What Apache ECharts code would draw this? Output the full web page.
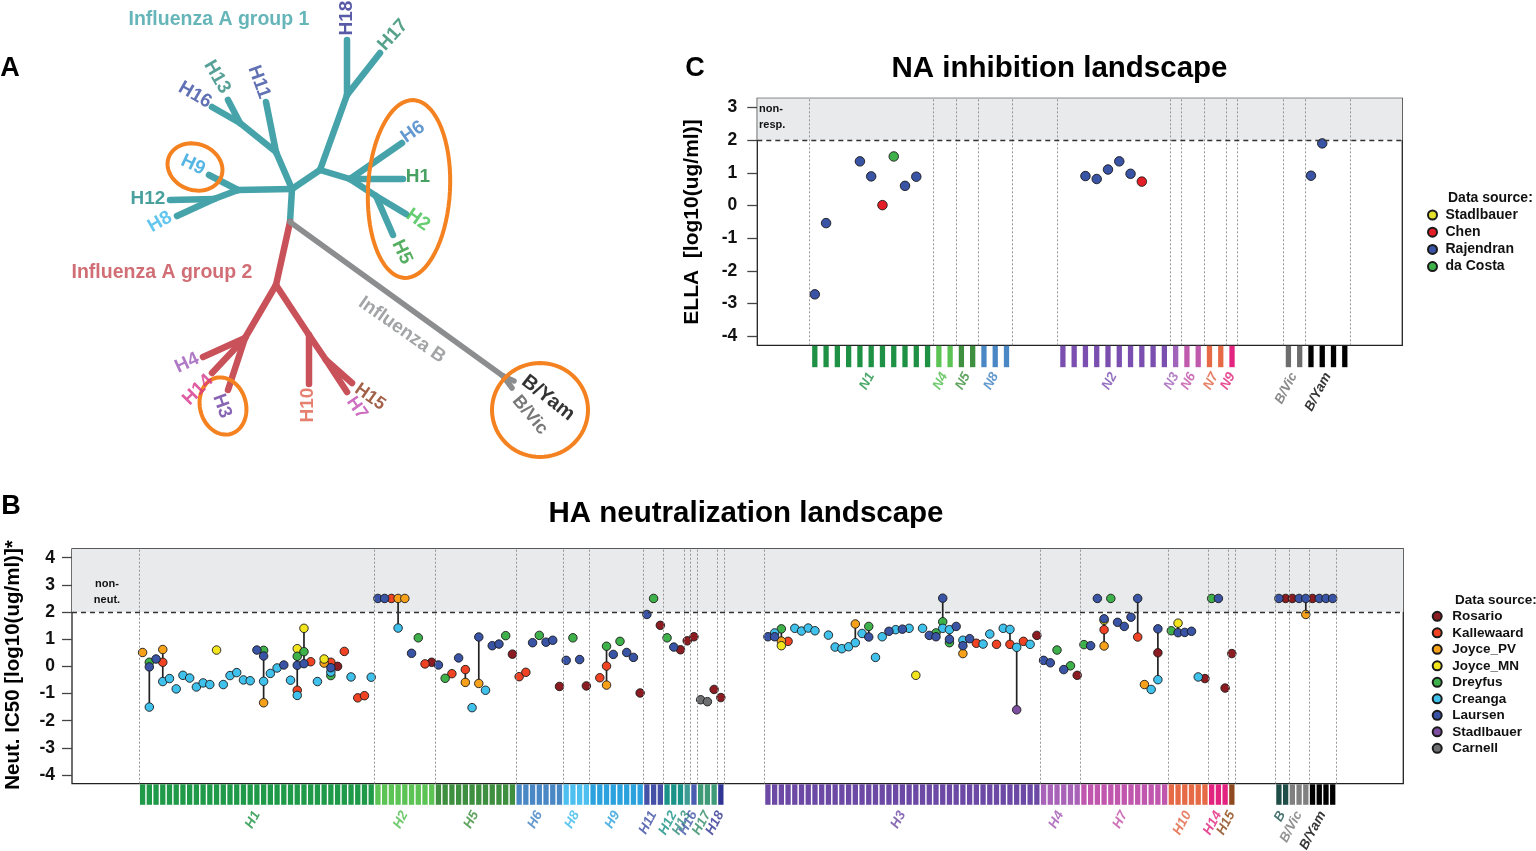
<!DOCTYPE html>
<html><head><meta charset="utf-8">
<script src="https://cdn.jsdelivr.net/npm/echarts@6/dist/echarts.min.js"></script>
<style>html,body{margin:0;padding:0;background:#fff}#c{width:1536px;height:851px}</style>
</head><body><div id="c"></div>
<script>
// ================= DATA =================
// Panel B: HA neutralization landscape (x = strain column, y = log10 IC50)
const haGroups = ['H1','H2','H5','H6','H8','H9','H11','H12','H13','H16','H17','H18','','H3','H4','H7','H10','H14','H15','','B','B/Vic','B/Yam'];
const haGroupSizes = [35,9,12,7,4,8,3,3,1,1,3,1,6,41,6,13,6,3,1,6,2,3,4];
const haTicks = [-4,-3,-2,-1,0,1,2,3,4];
const haSources = ['Rosario','Kallewaard','Joyce_PV','Joyce_MN','Dreyfus','Creanga','Laursen','Stadlbauer','Carnell'];
const rosarioHA = [[30,0.0],[44,0.15],[56,0.45],[63,-0.74],[67,-0.72],[75,-0.98],[78,1.51],[81,0.61],[82,0.94],[83,1.09],[86,-0.85],[87,-1.15],[134,1.14],[140,-0.33],[152,0.5],[159,-0.45],[162,-0.8],[163,0.47],[171,2.5],[172,2.5],[175,2.5]];
const kallewaardHA = [[4,0.15],[24,-0.88],[26,0.17],[29,0.15],[31,0.55],[33,-1.16],[34,-1.08],[38,2.5],[43,0.09],[47,-0.27],[49,-0.12],[57,-0.38],[58,-0.22],[69,-0.42],[70,0.01],[97,0.92],[125,0.85],[128,0.81],[130,0.81],[132,0.92],[144,1.35],[149,1.08]];
const joycePvHA = [[1,0.51],[4,0.62],[19,-1.34],[28,0.12],[39,2.5],[40,2.5],[49,-0.59],[51,-0.63],[70,-0.69],[96,0.93],[107,1.56],[123,0.47],[144,0.75],[150,-0.67],[174,1.91]];
const joyceMnHA = [[12,0.6],[24,0.65],[25,1.4],[28,0.27],[96,0.76],[116,-0.33],[144,1.69],[155,1.59]];
const dreyfusHA = [[2,0.15],[19,0.59],[24,0.37],[25,0.54],[29,-0.34],[42,1.05],[46,-0.44],[55,1.13],[60,1.14],[65,1.05],[70,0.74],[72,0.92],[77,2.5],[79,1.05],[96,1.38],[109,1.47],[119,1.23],[120,1.64],[121,0.87],[137,0.6],[139,0.02],[141,0.8],[145,2.5],[154,1.31],[160,2.5]];
const creangaHA = [[2,-1.5],[4,-0.56],[5,-0.45],[6,-0.83],[7,-0.33],[8,-0.43],[9,-0.76],[10,-0.61],[11,-0.67],[13,-0.67],[14,-0.34],[15,-0.23],[16,-0.5],[17,-0.53],[19,-0.55],[20,-0.26],[21,-0.06],[23,-0.51],[24,-1.07],[27,-0.56],[29,-0.21],[32,-0.39],[35,-0.4],[39,1.41],[50,-1.52],[52,-0.88],[95,1.23],[98,1.4],[99,1.3],[100,1.41],[101,1.31],[103,1.15],[104,0.71],[105,0.65],[106,0.72],[107,0.87],[108,1.21],[110,0.33],[111,1.09],[113,1.35],[115,1.4],[117,1.4],[120,1.4],[121,1.35],[123,0.96],[126,0.82],[127,1.19],[129,1.4],[130,1.36],[131,0.7],[133,0.81],[151,-0.85],[152,-0.49],[158,-0.39]];
const laursenHA = [[2,-0.02],[3,0.27],[18,0.6],[19,0.38],[22,0.05],[24,0.04],[25,0.1],[29,-0.05],[36,2.5],[37,2.5],[41,0.48],[45,0.05],[48,0.31],[51,1.08],[53,0.76],[54,0.82],[59,0.87],[61,0.89],[62,0.96],[64,0.22],[66,0.25],[71,0.44],[73,0.51],[74,0.33],[76,1.91],[80,0.71],[94,1.09],[95,1.09],[109,1.08],[112,1.29],[114,1.37],[118,1.14],[119,1.09],[120,2.51],[121,1.0],[122,1.47],[123,0.76],[124,1.02],[135,0.22],[136,0.13],[138,-0.12],[142,0.76],[143,2.5],[144,1.75],[146,1.62],[147,1.47],[148,1.81],[149,2.5],[152,1.38],[155,1.24],[156,1.25],[157,1.29],[161,2.5],[170,2.5],[173,2.5],[174,2.5],[176,2.5],[177,2.5],[178,2.5]];
const stadlbauerHA = [[131,-1.6]];
const carnellHA = [[84,-1.23],[85,-1.3]];
const haSourceData = [rosarioHA,kallewaardHA,joycePvHA,joyceMnHA,dreyfusHA,creangaHA,laursenHA,stadlbauerHA,carnellHA];

// Panel C: NA inhibition landscape (x = strain column, y = log10 ELLA)
const naGroups = ['N1','N4','N5','N8','','N2','N3','N6','N7','N9','','B/Vic','B/Yam'];
const naGroupSizes = [11,2,2,3,4,10,1,2,2,1,4,2,4];
const naTicks = [-4,-3,-2,-1,0,1,2,3];
const naSources = ['Stadlbauer','Chen','Rajendran','da Costa'];
const stadlbauerNA = [];
const chenNA = [[7,0.01],[30,0.73]];
const rajendranNA = [[1,-2.72],[2,-0.54],[5,1.35],[6,0.89],[9,0.6],[10,0.88],[25,0.9],[26,0.81],[27,1.1],[28,1.35],[29,0.97],[45,0.91],[46,1.9]];
const daCostaNA = [[8,1.5]];
const naSourceData = [stadlbauerNA,chenNA,rajendranNA,daCostaNA];
const threshold = 2;

// Panel A: phylogenetic tree layout (node positions in layout units)
const treeNodes = {
  root:[290,222], g1a:[292,189], x1:[276,152], H11:[266,102], y1:[240,123], H16:[212,107], H13:[228,100],
  z1:[238,190], H9:[209,175], w1:[214,199], H12:[170,200], H8:[177,216],
  g1b:[320,170], v1:[347,95], H18:[347,40], H17:[380,53], u1:[350,179], H6:[402,143], H1:[403,179],
  t1:[376,196], H2:[406,214], H5:[393,235],
  g2:[276,285], r2:[245,338], H4:[203,357], H14:[212,373], H3:[228,390], r3:[309,335], H10:[309,384],
  r4:[326,360], H15:[352,383], H7:[347,392],
  bn:[503,376], BYam:[514,381], BVic:[512,388]
};
const treeEdges = [
  ['root','g1a',0],['g1a','x1',0],['x1','H11',0],['x1','y1',0],['y1','H16',0],['y1','H13',0],
  ['g1a','z1',0],['z1','H9',0],['z1','w1',0],['w1','H12',0],['w1','H8',0],
  ['g1a','g1b',0],['g1b','v1',0],['v1','H18',0],['v1','H17',0],['g1b','u1',0],['u1','H6',0],['u1','H1',0],
  ['u1','t1',0],['t1','H2',0],['t1','H5',0],
  ['root','g2',1],['g2','r2',1],['r2','H4',1],['r2','H14',1],['r2','H3',1],['g2','r3',1],['r3','H10',1],
  ['r3','r4',1],['r4','H15',1],['r4','H7',1],
  ['root','bn',2],['bn','BYam',2],['bn','BVic',2]
];

// ================= STYLES =================
const FONT = '"Liberation Sans", Arial, Helvetica, sans-serif';
const branchColors = ['#46a3aa','#c9525a','#8b8d8f'];
const haStripeColors = {H1:'#1f9a48',H2:'#5cc355',H5:'#3e8f3f',H6:'#4a88c5',H8:'#4ec0ef',H9:'#2ba2dd',H11:'#4451a6',H12:'#1a9488',H13:'#3f9c95',H16:'#4a5db0',H17:'#3f9a78',H18:'#303494',H3:'#6c49a5',H4:'#a863b8',H7:'#c056ad',H10:'#e56a45',H14:'#e2237f',H15:'#8e4a1e',B:'#1f4e49','B/Vic':'#808080','B/Yam':'#000000'};
const haLabelColors = {H1:'#1a9041',H2:'#4dbd4a',H5:'#3b8f3a',H6:'#3d7fc0',H8:'#38b9ea',H9:'#2b9fd9',H11:'#3b4ba0',H12:'#159085',H13:'#2e8b7a',H16:'#3f55a5',H17:'#2e8a64',H18:'#2e3192',H3:'#6a45a3',H4:'#a056b0',H7:'#c050a8',H10:'#e0603f',H14:'#e0207a',H15:'#8b4513',B:'#1f5450','B/Vic':'#777777','B/Yam':'#000000'};
const naStripeColors = {N1:'#1e9145',N4:'#5cc355',N5:'#3e8f3f',N8:'#4a88c5',N2:'#7a4fb0',N3:'#a065bb',N6:'#c05aac',N7:'#e56a45',N9:'#e2237f','B/Vic':'#6d6d6d','B/Yam':'#000000'};
const naLabelColors = {N1:'#1e9145',N4:'#4dbd4a',N5:'#3b8f3a',N8:'#3d7fc0',N2:'#7a4fb0',N3:'#a060b8',N6:'#c050a8',N7:'#e0603f',N9:'#e0207a','B/Vic':'#6d6d6d','B/Yam':'#000000'};
const haSourceColors = ['#8b1c21','#ef4323','#f7a11a','#f2e51e','#3fb14b','#40c1ec','#3953a5','#7d4e9f','#6d6e70'];
const naSourceColors = ['#e3df2a','#e41e26','#3953a5','#3fb14b'];

const treeLabels = [
  {t:'Influenza A group 1', p:[219,20], r:0, c:'#3ea2a8', s:19.5},
  {t:'Influenza A group 2', p:[162,273], r:0, c:'#c64a52', s:19.5},
  {t:'Influenza B', p:[402,330], r:-35, c:'#8b8d8f', s:19},
  {t:'H18', p:[347,18], r:90, c:'#2e3192', s:19},
  {t:'H17', p:[393,35], r:48, c:'#2b8a6c', s:19},
  {t:'H13', p:[217,77], r:-60, c:'#2e8a7e', s:19},
  {t:'H11', p:[259,82], r:-70, c:'#3a4ea0', s:19},
  {t:'H16', p:[195,95], r:-30, c:'#3a4ea0', s:19},
  {t:'H9', p:[193,165], r:-25, c:'#2aa3dc', s:19},
  {t:'H12', p:[148,199], r:0, c:'#1a8a85', s:19},
  {t:'H8', p:[160,222], r:30, c:'#3cb8ea', s:19},
  {t:'H6', p:[413,132], r:35, c:'#3d7fc4', s:19},
  {t:'H1', p:[418,177], r:0, c:'#1a8a3a', s:19},
  {t:'H2', p:[418,220], r:-35, c:'#3cc04c', s:19},
  {t:'H5', p:[402,252], r:-65, c:'#2b9a3a', s:19},
  {t:'H4', p:[187,363], r:25, c:'#9b59b6', s:19},
  {t:'H14', p:[198,390], r:45, c:'#d6338a', s:19},
  {t:'H3', p:[222,406], r:-70, c:'#6a3fa0', s:19},
  {t:'H10', p:[308,405], r:90, c:'#e0604a', s:19},
  {t:'H15', p:[370,397], r:-35, c:'#8b3a1a', s:18},
  {t:'H7', p:[357,408], r:-55, c:'#c04ab0', s:18},
  {t:'B/Yam', p:[548,398], r:-38, c:'#000000', s:20},
  {t:'B/Vic', p:[530,415], r:-50, c:'#555555', s:18}
];
const rings = [
  {c:[195,167], rx:28, ry:23, a:-20},
  {c:[409,189], rx:41, ry:89, a:-3},
  {c:[223,406], rx:23, ry:29, a:15},
  {c:[540,410], rx:48, ry:47, a:0}
];

// ================= HELPERS =================
function layoutGroups(groups, sizes) {
  let c = 1; const cols = [], spans = [];
  groups.forEach((g, i) => {
    const s = c, e = c + sizes[i] - 1;
    if (g) { for (let k = s; k <= e; k++) cols.push([k, 1, g]); spans.push({g, s, e}); }
    c += sizes[i];
  });
  const bounds = [];
  spans.forEach(sp => { [sp.s - 0.5, sp.e + 0.5].forEach(v => { if (bounds.indexOf(v) < 0) bounds.push(v); }); });
  return {cols, spans, bounds, total: c - 1};
}
function linkData(all) {
  const m = {};
  all.forEach(arr => arr.forEach(([x, y]) => { if (!m[x]) m[x] = []; m[x].push(y); }));
  const out = [];
  Object.keys(m).forEach(k => { const v = m[k]; if (v.length > 1) { const lo = Math.min(...v), hi = Math.max(...v); if (hi > lo) out.push([+k, lo, hi]); } });
  return out;
}
const ha = layoutGroups(haGroups, haGroupSizes);
const na = layoutGroups(naGroups, naGroupSizes);

function stripeSeries(lay, colors, xi, ratio) {
  return {type:'custom', xAxisIndex:xi, yAxisIndex:xi, silent:true, z:2,
    data: lay.cols.map(c => [c[0], c[1], lay.spans.findIndex(s => s.g === c[2])]),
    renderItem: (params, api) => {
      const x = api.value(0);
      const w = api.size([1, 0])[0] * ratio;
      const tp = api.coord([x, 1]), bt = api.coord([x, 0]);
      const g = lay.spans[api.value(2)].g;
      return {type:'rect', shape:{x: tp[0] - w / 2, y: tp[1], width: w, height: bt[1] - tp[1]}, style:{fill: colors[g]}};
    }};
}
function groupLabelSeries(lay, colors, xi, yv, fs) {
  return {type:'scatter', xAxisIndex:xi, yAxisIndex:xi, silent:true, symbolSize:0, z:3,
    data: lay.spans.map(s => ({name: s.g, value:[(s.s + s.e) / 2, yv], label:{color: colors[s.g]}})),
    label:{show:true, position:[0,0], formatter:'{b}', rotate:62, align:'right', verticalAlign:'middle',
      fontFamily:FONT, fontSize:fs, fontStyle:'italic', fontWeight:'bold'}};
}
function bandSeries(xi, top) {
  return {type:'custom', xAxisIndex:xi, yAxisIndex:xi, silent:true, z:0, data:[[0,0]], renderItem:() => null,
    markArea:{silent:true, itemStyle:{color:'#e9eaeb'}, data:[[{yAxis:threshold},{yAxis:top}]]}};
}
function linkSeries(xi, all, bounds) {
  return {type:'custom', xAxisIndex:xi, yAxisIndex:xi, silent:true, z:1, data: linkData(all),
    renderItem: (params, api) => {
      const a = api.coord([api.value(0), api.value(1)]), b = api.coord([api.value(0), api.value(2)]);
      return {type:'line', shape:{x1:a[0], y1:a[1], x2:b[0], y2:b[1]}, style:{stroke:'#222', lineWidth:1.7}};
    },
    markLine:{silent:true, symbol:['none','none'], label:{show:false}, animation:false,
      lineStyle:{type:[2,2], color:'#8a8a8a', width:0.9},
      data: bounds.map(v => ({xAxis:v})).concat([{yAxis:threshold, lineStyle:{type:[5,4], color:'#333', width:1.3}}])}};
}
function pointSeries(names, datas, colors, xi, size, prefix) {
  return names.map((n, i) => ({type:'scatter', name: prefix + n, xAxisIndex:xi, yAxisIndex:xi, silent:true, z:3,
    symbol:'circle', symbolSize:size, data: datas[i],
    itemStyle:{color: colors[i], borderColor:'#1a1a1a', borderWidth:0.9, opacity:1}}));
}
function yAxisPlot(gi, min, max, ticks, margin) {
  return {gridIndex:gi, type:'value', min, max, splitLine:{show:false}, axisLine:{show:false, onZero:false},
    axisTick:{show:true, inside:false, length:10, customValues:ticks, lineStyle:{color:'#444', width:1.3}},
    axisLabel:{show:true, customValues:ticks, margin, fontFamily:FONT, fontSize:17.5, fontWeight:'bold', color:'#111'}};
}

// ================= CHART =================
const chart = echarts.init(document.getElementById('c'));
const hidden = (gi, min, max, inv) => ({gridIndex:gi, type:'value', min, max, show:false, inverse:!!inv, splitLine:{show:false}, axisLine:{onZero:false}});
const txt = (x, y, text, size, extra) => Object.assign({type:'text', x, y, z:100, zlevel:0,
  style:Object.assign({text, fontFamily:FONT, fontSize:size, fontWeight:'bold', fill:'#000', align:'center', verticalAlign:'middle'}, (extra && extra.style) || {})},
  extra && extra.rotation ? {rotation: extra.rotation} : {});

const option = {
  animation:false,
  backgroundColor:'#fff',
  grid:[
    {left:0, top:0, width:600, height:460},
    {left:757.3, top:98.3, width:645, height:247, show:true, borderColor:'#222', borderWidth:1.3},
    {left:757.3, top:345.8, width:645, height:64.2},
    {left:72, top:549, width:1331.3, height:234.7, show:true, borderColor:'#222', borderWidth:1.3},
    {left:72, top:784.3, width:1331.3, height:61.5}
  ],
  xAxis:[hidden(0,0,600), hidden(1,-4.1,53.1), hidden(2,-4.1,53.1), hidden(3,-9.5,188.5), hidden(4,-9.5,188.5)],
  yAxis:[hidden(0,0,460,true), yAxisPlot(1,-4.28,3.28,naTicks,20), hidden(2,-2,1), yAxisPlot(3,-4.32,4.32,haTicks,17), hidden(4,-2,1)],
  legend:[
    {data:haSources, orient:'vertical', left:1431.7, top:609.3, padding:0, itemWidth:20, itemHeight:9, itemGap:2.5,
      selectedMode:false, icon:'circle', textStyle:{fontFamily:FONT, fontSize:13.5, fontWeight:'bold', color:'#111', lineHeight:14}},
    {data:naSources.map(n => 'C_' + n), orient:'vertical', left:1427, top:208, padding:0, itemWidth:16, itemHeight:9, itemGap:3.2,
      selectedMode:false, icon:'circle', formatter: n => n.replace(/^C_/, ''),
      textStyle:{fontFamily:FONT, fontSize:14, fontWeight:'bold', color:'#111', lineHeight:14}}
  ],
  graphic:{elements:[
    txt(10, 69, 'A', 27),
    txt(11, 507, 'B', 27),
    txt(695, 69, 'C', 27),
    txt(1059.5, 69, 'NA inhibition landscape', 29.5),
    txt(746, 514, 'HA neutralization landscape', 29.5),
    txt(692, 222, 'ELLA  [log10(ug/ml)]', 21, {rotation:Math.PI/2}),
    txt(13, 665, 'Neut. IC50 [log10(ug/ml)]*', 20.5, {rotation:Math.PI/2}),
    txt(107, 592, 'non-\nneut.', 11, {style:{fill:'#111', lineHeight:15.5}}),
    txt(759, 117, 'non-\nresp.', 11, {style:{fill:'#111', align:'left', lineHeight:15.5}}),
    txt(1455, 600.5, 'Data source:', 13.5, {style:{fill:'#111', align:'left'}}),
    txt(1448, 198, 'Data source:', 14, {style:{fill:'#111', align:'left'}})
  ]},
  series:[
    // ---- Panel A tree ----
    {type:'custom', xAxisIndex:0, yAxisIndex:0, silent:true, z:1,
      data: treeEdges.map(e => [treeNodes[e[0]][0], treeNodes[e[0]][1], treeNodes[e[1]][0], treeNodes[e[1]][1], e[2]]),
      renderItem: (params, api) => {
        const a = api.coord([api.value(0), api.value(1)]), b = api.coord([api.value(2), api.value(3)]);
        const g = api.value(4);
        return {type:'line', shape:{x1:a[0], y1:a[1], x2:b[0], y2:b[1]}, style:{stroke: branchColors[g], lineWidth: g === 2 ? 5.5 : 6.5, lineCap:'round'}};
      }},
    {type:'custom', xAxisIndex:0, yAxisIndex:0, silent:true, z:2,
      data: rings.map(r => [r.c[0], r.c[1], r.rx, r.ry, r.a]),
      renderItem: (params, api) => {
        const cx = api.value(0), cy = api.value(1), rx = api.value(2), ry = api.value(3), a = api.value(4) * Math.PI / 180;
        const pts = [];
        for (let i = 0; i < 72; i++) {
          const t = i / 72 * 2 * Math.PI;
          const ex = rx * Math.cos(t), ey = ry * Math.sin(t);
          pts.push(api.coord([cx + ex * Math.cos(a) + ey * Math.sin(a), cy - ex * Math.sin(a) + ey * Math.cos(a)]));
        }
        return {type:'polygon', shape:{points: pts}, style:{fill:'none', stroke:'#f58220', lineWidth:4}};
      }},
    {type:'scatter', xAxisIndex:0, yAxisIndex:0, silent:true, symbolSize:0, z:3,
      data: treeLabels.map(l => ({name:l.t, value:l.p, label:{rotate:l.r, color:l.c, fontSize:l.s}})),
      label:{show:true, position:[0,0], formatter:'{b}', align:'center', verticalAlign:'middle', fontFamily:FONT, fontWeight:'bold'}},
    // ---- Panel C ----
    bandSeries(1, 3.28),
    linkSeries(1, naSourceData, na.bounds),
    ...pointSeries(naSources, naSourceData, naSourceColors, 1, 9.5, 'C_'),
    stripeSeries(na, naStripeColors, 2, 0.47),
    groupLabelSeries(na, naLabelColors, 2, -0.3, 13.5),
    // ---- Panel B ----
    bandSeries(3, 4.32),
    linkSeries(3, haSourceData, ha.bounds),
    ...pointSeries(haSources, haSourceData, haSourceColors, 3, 8.5, ''),
    stripeSeries(ha, haStripeColors, 4, 0.79),
    groupLabelSeries(ha, haLabelColors, 4, -0.36, 13.5)
  ]
};
chart.setOption(option);
</script></body></html>
